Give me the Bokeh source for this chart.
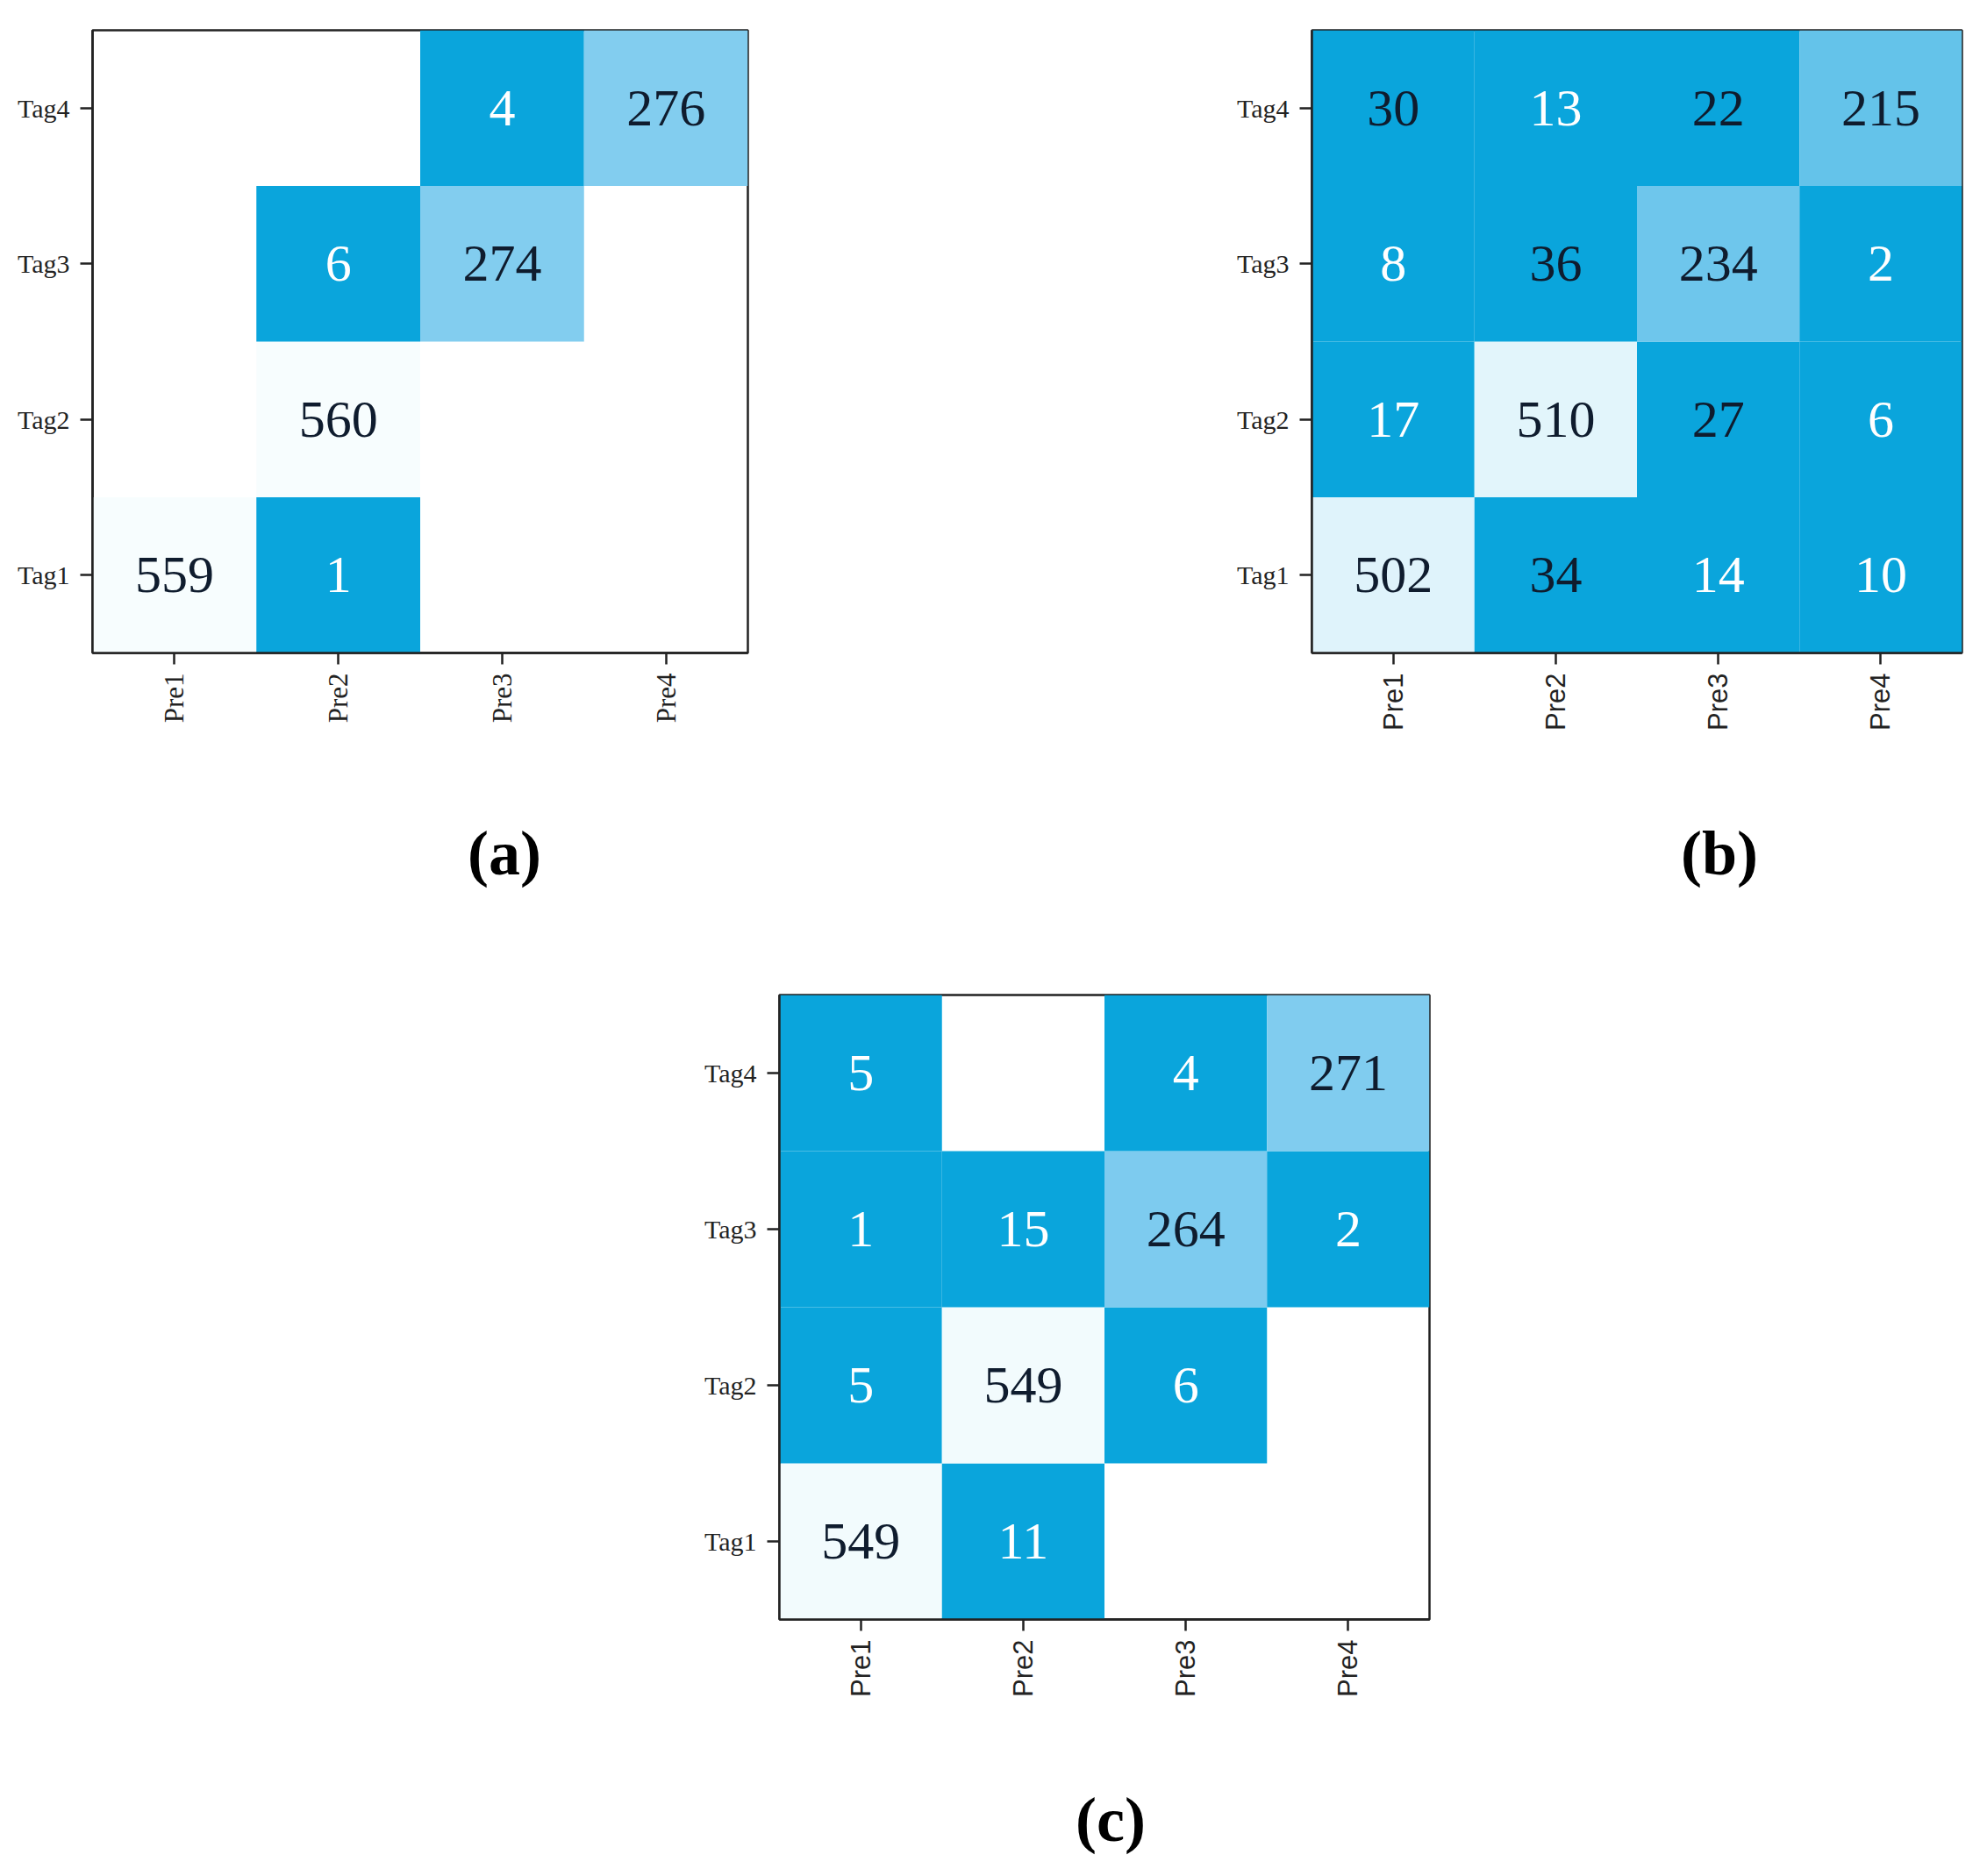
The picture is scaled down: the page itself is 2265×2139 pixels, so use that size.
import numpy as np
from bokeh.plotting import figure
from bokeh.models import ColumnDataSource, FactorRange, Div, Spacer, LinearColorMapper
from bokeh.layouts import row, column
from bokeh.core.properties import value
from bokeh.transform import transform
from bokeh.embed import file_html
from bokeh.resources import INLINE

# ---------------- data ----------------
tags = ["Tag1", "Tag2", "Tag3", "Tag4"]
preds = ["Pre1", "Pre2", "Pre3", "Pre4"]

# rows: Tag1..Tag4, columns: Pre1..Pre4
cm_a = [
    [559, 1, 0, 0],
    [0, 560, 0, 0],
    [0, 6, 274, 0],
    [0, 0, 4, 276],
]
cm_b = [
    [502, 34, 14, 10],
    [17, 510, 27, 6],
    [8, 36, 234, 2],
    [30, 13, 22, 215],
]
cm_c = [
    [549, 11, 0, 0],
    [5, 549, 6, 0],
    [1, 15, 264, 2],
    [5, 0, 4, 271],
]
panel_labels = ["(a)", "(b)", "(c)"]

# ---------------- styling ----------------
# colour ramp: saturated blue for small counts, light blue mid, near-white high
ANCHOR_POS = [0.0, 40.0, 270.0, 560.0]
ANCHOR_RGB = [(10, 165, 220), (10, 165, 220), (128, 204, 239), (247, 253, 254)]
VMAX = 560
steps = np.arange(VMAX + 1)
chans = [np.interp(steps, ANCHOR_POS, [c[k] for c in ANCHOR_RGB]) for k in range(3)]
palette = ["#%02x%02x%02x" % (int(round(r)), int(round(g)), int(round(b)))
           for r, g, b in zip(*chans)]
mapper = LinearColorMapper(palette=palette, low=0, high=VMAX)

DARK_TEXT = "#0f1c2e"
AXIS_COLOR = "#222222"


def make_panel(cm, xfont, left, top, right, bottom, fw, fh):
    xs, ys, vals, labels, tcols = [], [], [], [], []
    for i, tg in enumerate(tags):
        for j, pr in enumerate(preds):
            v = cm[i][j]
            if v == 0:
                continue
            xs.append(pr)
            ys.append(tg)
            vals.append(v)
            labels.append(str(v))
            tcols.append("white" if v < 20 else DARK_TEXT)
    src = ColumnDataSource(dict(x=xs, y=ys, v=vals, label=labels, tc=tcols))

    p = figure(
        x_range=FactorRange(*preds), y_range=FactorRange(*tags),
        width=left + fw + right, height=top + fh + bottom,
        min_border_left=left, min_border_right=right,
        min_border_top=top, min_border_bottom=bottom,
        output_backend="svg", toolbar_location=None, tools="",
    )
    p.rect(x="x", y="y", width=1, height=1, source=src,
           fill_color=transform("v", mapper), line_color=None)
    p.text(x="x", y="y", text="label", source=src,
           text_font=value("Liberation Serif"), text_font_size="60px",
           text_align="center", text_baseline="middle", text_color="tc")

    p.xgrid.grid_line_color = None
    p.ygrid.grid_line_color = None
    p.outline_line_color = AXIS_COLOR
    p.outline_line_width = 2.5
    p.outline_line_alpha = 1.0
    p.background_fill_color = "white"
    p.border_fill_color = "white"
    p.x_range.range_padding = 0
    p.y_range.range_padding = 0

    for ax in (p.xaxis[0], p.yaxis[0]):
        ax.axis_line_color = AXIS_COLOR
        ax.axis_line_width = 2.5
        ax.major_tick_line_color = AXIS_COLOR
        ax.major_tick_line_width = 2.5
        ax.major_tick_in = 0
        ax.minor_tick_line_color = None
        ax.major_label_text_color = "#222222"

    p.yaxis.major_tick_out = 14
    p.yaxis.major_label_standoff = 12
    p.yaxis.major_label_text_font = "Liberation Serif"
    p.yaxis.major_label_text_font_size = "30px"

    p.xaxis.major_tick_out = 13
    p.xaxis.major_label_standoff = 10
    p.xaxis.major_label_orientation = np.pi / 2
    p.xaxis.major_label_text_font = xfont
    p.xaxis.major_label_text_font_size = "31px"
    return p


fig_a = make_panel(cm_a, "Liberation Serif", 105, 26, 10, 116, 747, 718)
fig_b = make_panel(cm_b, "Liberation Sans", 97, 34, 12, 114, 741, 712)
fig_c = make_panel(cm_c, "Liberation Sans", 97, 28, 12, 123, 741, 712)


def label_div(txt, w, h, offset):
    html = ('<div style="width:%dpx; margin-top:%dpx; line-height:80px; text-align:center; '
            'font-family:\'Liberation Serif\'; font-weight:bold; font-size:72px; color:#000;">%s</div>'
            % (w, offset, txt))
    return Div(text=html, width=w, height=h)


div_a = label_div(panel_labels[0], 1140, 236, 68)
div_b = label_div(panel_labels[1], 300, 236, 68)
div_c = label_div(panel_labels[2], 400, 170, 61)

layout = column(
    row(fig_a, Spacer(width=536, height=860), fig_b),
    row(div_a, Spacer(width=655, height=236), div_b),
    row(Spacer(width=791, height=863), fig_c),
    row(Spacer(width=1061, height=170), div_c),
)

open("out.html", "w").write(file_html(layout, INLINE))
